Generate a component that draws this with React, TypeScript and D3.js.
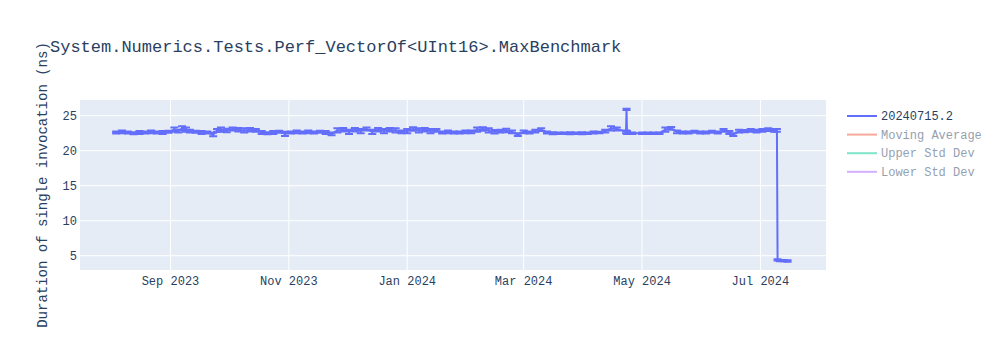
import React from "react";
import * as d3 from "d3";

const title = "System.Numerics.Tests.Perf_VectorOf<UInt16>.MaxBenchmark";
const yTitle = "Duration of single invocation (ns)";
const seriesName = "20240715.2";
const hiddenSeries = ["Moving Average", "Upper Std Dev", "Lower Std Dev"];
const hiddenColors = ["#EF553B", "#00cc96", "#ab63fa"];
const yTicks = [5, 10, 15, 20, 25];

const dates = [
  "2023-08-04","2023-08-07","2023-08-10","2023-08-13","2023-08-16","2023-08-19","2023-08-22","2023-08-25","2023-08-28","2023-08-31",
  "2023-09-03","2023-09-05","2023-09-07","2023-09-09","2023-09-11","2023-09-14","2023-09-17","2023-09-20","2023-09-23","2023-09-25",
  "2023-09-27","2023-09-30","2023-10-03","2023-10-06","2023-10-09","2023-10-12","2023-10-15","2023-10-18","2023-10-21","2023-10-24",
  "2023-10-27","2023-10-30","2023-11-02","2023-11-05","2023-11-08","2023-11-11","2023-11-14","2023-11-17","2023-11-20","2023-11-23",
  "2023-11-26","2023-11-29","2023-12-02","2023-12-05","2023-12-08","2023-12-11","2023-12-14","2023-12-17","2023-12-20","2023-12-23",
  "2023-12-26","2023-12-29","2024-01-01","2024-01-04","2024-01-07","2024-01-10","2024-01-13","2024-01-16","2024-01-19","2024-01-22",
  "2024-01-25","2024-01-28","2024-01-31","2024-02-03","2024-02-06","2024-02-09","2024-02-12","2024-02-15","2024-02-18","2024-02-21",
  "2024-02-24","2024-02-27","2024-03-01","2024-03-04","2024-03-07","2024-03-10","2024-03-13","2024-03-16","2024-03-19","2024-03-22",
  "2024-03-25","2024-03-28","2024-03-31","2024-04-03","2024-04-06","2024-04-09","2024-04-12","2024-04-15","2024-04-18","2024-04-22 18",
  "2024-04-23 00","2024-04-23 06","2024-04-26","2024-05-01","2024-05-04","2024-05-07","2024-05-10","2024-05-13","2024-05-16","2024-05-19",
  "2024-05-22","2024-05-25","2024-05-28","2024-05-31","2024-06-03","2024-06-06","2024-06-09","2024-06-12","2024-06-15","2024-06-17",
  "2024-06-20","2024-06-23","2024-06-26","2024-06-29","2024-07-02","2024-07-05","2024-07-08","2024-07-09 12","2024-07-09 20","2024-07-11",
  "2024-07-13","2024-07-15"
];

const values = [
  22.6,22.7,22.6,22.5,22.6,22.6,22.7,22.6,22.6,22.7,
  23.0,22.8,23.2,23.0,22.8,22.7,22.6,22.6,22.3,22.9,
  23.0,22.9,23.1,23.0,22.9,23.0,22.9,22.6,22.5,22.6,
  22.7,22.4,22.6,22.7,22.6,22.7,22.6,22.7,22.6,22.4,
  22.9,23.0,22.7,23.0,22.8,23.1,22.7,23.0,22.8,23.0,
  22.9,22.7,22.8,23.1,22.9,23.0,22.8,22.9,22.6,22.7,
  22.6,22.6,22.7,22.7,23.0,23.1,22.9,22.7,22.8,22.9,
  22.7,22.3,22.7,22.6,22.8,23.0,22.6,22.5,22.5,22.5,
  22.5,22.5,22.5,22.5,22.6,22.6,22.8,23.2,23.1,22.7,
  25.9,22.6,22.5,22.5,22.5,22.5,22.5,23.0,23.2,22.7,
  22.6,22.6,22.7,22.6,22.6,22.7,22.6,22.9,22.6,22.3,
  22.8,22.8,22.9,22.8,22.9,23.0,22.9,22.9,4.4,4.3,
  4.3,4.25
];

const errors = [
  0.15,0.2,0.15,0.15,0.2,0.15,0.2,0.15,0.2,0.15,
  0.3,0.2,0.3,0.3,0.2,0.15,0.2,0.15,0.25,0.2,
  0.3,0.25,0.2,0.25,0.3,0.25,0.2,0.2,0.15,0.2,
  0.15,0.3,0.15,0.2,0.15,0.2,0.15,0.15,0.2,0.2,
  0.3,0.25,0.3,0.25,0.3,0.2,0.3,0.25,0.3,0.25,
  0.3,0.2,0.3,0.25,0.3,0.25,0.3,0.2,0.15,0.2,
  0.15,0.15,0.2,0.2,0.3,0.25,0.3,0.25,0.2,0.25,
  0.2,0.2,0.2,0.15,0.2,0.2,0.15,0.15,0.1,0.1,
  0.15,0.1,0.15,0.1,0.15,0.1,0.2,0.3,0.2,0.2,
  0.1,0.2,0.1,0.1,0.1,0.1,0.1,0.3,0.2,0.2,
  0.15,0.15,0.15,0.15,0.15,0.15,0.15,0.2,0.2,0.2,
  0.2,0.15,0.2,0.2,0.2,0.2,0.2,0.2,0.1,0.1,
  0.1,0.1
];

const xDomainStart = "2023-07-16 09";
const xDomainEnd = "2024-08-03 19";
const yDomain = [2.96, 27.24];

const parseDay = d3.timeParse("%Y-%m-%d");
const parseHour = d3.timeParse("%Y-%m-%d %H");
const parseDate = (s: string) => parseDay(s) ?? parseHour(s)!;

const W = 1000, H = 350;
const M = { left: 80, right: 174, top: 100, bottom: 80 };
const FONT = "'Liberation Mono', 'Courier New', monospace";
const TEXT = "#2a3f5f";
const LINE = "#636efa";

export default function App() {
  const x = d3.scaleTime()
    .domain([parseDate(xDomainStart), parseDate(xDomainEnd)])
    .range([M.left, W - M.right]);
  const y = d3.scaleLinear().domain(yDomain).range([H - M.bottom, M.top]);

  const pts = dates.map((d, i) => ({ t: parseDate(d), v: values[i], e: errors[i] }));
  const line = d3.line<{ t: Date; v: number }>().x(p => x(p.t)).y(p => y(p.v));
  const xTicks = x.ticks(d3.timeMonth.every(2)!);
  const fmt = d3.timeFormat("%b %Y");
  const cap = 4;

  return (
    <svg width={W} height={H} style={{ display: "block", position: "absolute", left: 0, top: 0, background: "#fff" }}>
      <rect x={M.left} y={M.top} width={W - M.left - M.right} height={H - M.top - M.bottom} fill="#E5ECF6" />
      {xTicks.map((t, i) => (
        <line key={"gx" + i} x1={x(t)} x2={x(t)} y1={M.top} y2={H - M.bottom} stroke="#fff" strokeWidth={1} />
      ))}
      {yTicks.map((t, i) => (
        <line key={"gy" + i} x1={M.left} x2={W - M.right} y1={y(t)} y2={y(t)} stroke="#fff" strokeWidth={1} />
      ))}
      <g>
        {pts.map((p, i) => {
          const cx = x(p.t), y0 = y(p.v - p.e), y1 = y(p.v + p.e);
          return (
            <path key={"e" + i}
              d={`M${cx},${y0}V${y1}M${cx - cap},${y1}H${cx + cap}M${cx - cap},${y0}H${cx + cap}`}
              stroke={LINE} strokeWidth={2} fill="none" />
          );
        })}
        <path d={line(pts) || ""} fill="none" stroke={LINE} strokeWidth={2} strokeLinejoin="round" />
      </g>
      {xTicks.map((t, i) => (
        <text key={"tx" + i} x={x(t)} y={H - M.bottom + 15} textAnchor="middle" fontFamily={FONT} fontSize={12} fill={TEXT}>
          {fmt(t)}
        </text>
      ))}
      {yTicks.map((t, i) => (
        <text key={"ty" + i} x={M.left - 3} y={y(t)} dy="0.35em" textAnchor="end" fontFamily={FONT} fontSize={12} fill={TEXT}>
          {t}
        </text>
      ))}
      <text x={50} y={46} dy="0.35em" fontFamily={FONT} fontSize={17} fill={TEXT}>{title}</text>
      <text transform={`translate(42,${(M.top + H - M.bottom) / 2}) rotate(-90)`} dy="0.35em" textAnchor="middle"
        fontFamily={FONT} fontSize={14} fill={TEXT}>{yTitle}</text>
      <g>
        <line x1={847} x2={877} y1={116} y2={116} stroke={LINE} strokeWidth={2} />
        <text x={881} y={116} dy="0.35em" fontFamily={FONT} fontSize={12} fill={TEXT}>{seriesName}</text>
        {hiddenSeries.map((s, i) => {
          const ly = 116 + (i + 1) * 18.6;
          return (
            <g key={s} opacity={0.5}>
              <line x1={847} x2={877} y1={ly} y2={ly} stroke={hiddenColors[i]} strokeWidth={2} />
              <text x={881} y={ly} dy="0.35em" fontFamily={FONT} fontSize={12} fill={TEXT}>{s}</text>
            </g>
          );
        })}
      </g>
    </svg>
  );
}
